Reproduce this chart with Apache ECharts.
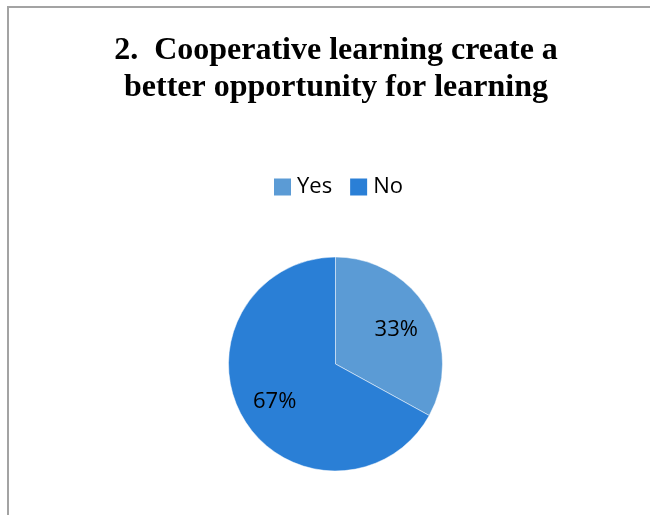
<!DOCTYPE html>
<html>
<head>
<meta charset="utf-8">
<script src="https://cdn.jsdelivr.net/npm/echarts@6/dist/echarts.min.js"></script>
<style>
  html, body { margin: 0; padding: 0; background: #fff; }
  #chart { width: 650px; height: 515px; }
</style>
</head>
<body>
<div id="chart"></div>
<script>
// Survey answers, in percent
const categories = ['Yes', 'No'];
const shares = [33, 67];
const sliceColors = ['#5b9bd5', '#2a7fd6'];

const titleLines = ['2.  Cooperative learning create a', 'better opportunity for learning'];

const pieCenter = [335.5, 364];
const pieRadius = 107;
// Excel-style data labels sit a little further out than the half radius
const labelPush = 1.25;

const chart = echarts.init(document.getElementById('chart'), null, { renderer: 'canvas' });

chart.setOption({
  backgroundColor: '#ffffff',
  animation: false,
  graphic: [{
    type: 'rect',
    shape: { x: 8, y: 7, width: 700, height: 600 },
    style: { fill: 'none', stroke: '#a3a3a3', lineWidth: 2 },
    silent: true,
    z: 0
  }],
  title: {
    text: titleLines.join('\n'),
    left: 331,
    textAlign: 'center',
    top: 27,
    textStyle: {
      fontFamily: '"Liberation Serif", "Times New Roman", serif',
      fontWeight: 'bold',
      fontSize: 32,
      lineHeight: 37,
      color: '#000'
    }
  },
  legend: {
    data: categories,
    top: 171,
    left: 267,
    padding: 5,
    itemWidth: 19,
    itemHeight: 19,
    itemGap: 16,
    icon: 'path://M0,0H10V10H0Z',
    textStyle: {
      fontFamily: '"Open Sans", "Noto Sans", sans-serif',
      fontSize: 22,
      color: '#000'
    }
  },
  series: [{
    type: 'pie',
    center: pieCenter,
    radius: pieRadius,
    startAngle: 90,
    clockwise: true,
    color: sliceColors,
    itemStyle: { borderColor: '#ffffff', borderWidth: 0.5 },
    label: {
      show: true,
      position: 'inside',
      formatter: p => p.value + '%',
      fontFamily: '"Open Sans", "Noto Sans", sans-serif',
      fontSize: 22,
      color: '#000'
    },
    labelLine: { show: false },
    labelLayout: function (params) {
      const r = params.labelRect;
      const lx = r.x + r.width / 2;
      const ly = r.y + r.height / 2;
      return {
        dx: (lx - pieCenter[0]) * (labelPush - 1),
        dy: (ly - pieCenter[1]) * (labelPush - 1) + 2
      };
    },
    emphasis: { disabled: true },
    data: categories.map((name, i) => ({ name: name, value: shares[i] }))
  }]
});
</script>
</body>
</html>
